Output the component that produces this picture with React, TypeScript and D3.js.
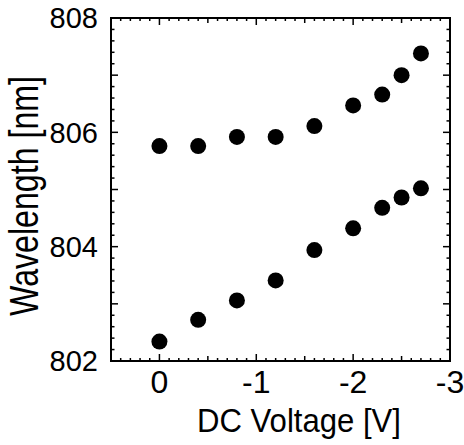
import React from "react";
import * as d3 from "d3";

const voltages = [0, -0.4, -0.8, -1.2, -1.6, -2.0, -2.3, -2.5, -2.7];
const upperWavelength = [805.76, 805.76, 805.92, 805.92, 806.11, 806.47, 806.66, 807.0, 807.38];
const lowerWavelength = [802.34, 802.72, 803.06, 803.41, 803.94, 804.32, 804.68, 804.86, 805.02];
const xTickLabels = [0, -1, -2, -3];
const yTickLabels = [802, 804, 806, 808];

const W = 464;
const H = 445;
const L = 111, R = 450, T = 18, B = 361;
const font = "'Liberation Sans', Arial, Helvetica, sans-serif";

export default function App() {
  const x = d3.scaleLinear().domain([0.5, -3]).range([L, R]);
  const y = d3.scaleLinear().domain([802, 808]).range([B, T]);

  const xMinor = d3.range(5, -31, -1).map((v) => v / 10);
  const yMinor = d3.range(8020, 8081, 2).map((v) => v / 10);

  const xLen = (v: number) => {
    const r = Math.round(v * 10);
    if (r % 10 === 0) return 7;
    if (r % 5 === 0) return 5;
    return 3;
  };
  const yLen = (v: number) => (Math.round(v * 10) % 10 === 0 ? 7 : 3.5);

  const upper = voltages.map((v, i) => ({ v, w: upperWavelength[i] }));
  const lower = voltages.map((v, i) => ({ v, w: lowerWavelength[i] }));

  return (
    <svg width={W} height={H} style={{ position: "absolute", left: 0, top: 0, background: "#fff" }}>
      <rect x={0} y={0} width={W} height={H} fill="#fff" />
      {/* ticks */}
      <g stroke="#000" strokeWidth={1.5}>
        {xMinor.map((v, i) => (
          <g key={"xt" + i}>
            <line x1={x(v)} x2={x(v)} y1={B} y2={B - xLen(v)} />
            <line x1={x(v)} x2={x(v)} y1={T} y2={T + xLen(v)} />
          </g>
        ))}
        {yMinor.map((v, i) => (
          <g key={"yt" + i}>
            <line x1={L} x2={L + yLen(v)} y1={y(v)} y2={y(v)} />
            <line x1={R} x2={R - yLen(v)} y1={y(v)} y2={y(v)} />
          </g>
        ))}
      </g>
      <rect x={L} y={T} width={R - L} height={B - T} fill="none" stroke="#000" strokeWidth={2} />
      {/* data */}
      {upper.map((d, i) => (
        <circle key={"u" + i} cx={x(d.v)} cy={y(d.w)} r={8} fill="#000" />
      ))}
      {lower.map((d, i) => (
        <circle key={"l" + i} cx={x(d.v)} cy={y(d.w)} r={8} fill="#000" />
      ))}
      {/* tick labels */}
      <g fontFamily={font} fill="#000">
        {xTickLabels.map((v) => (
          <text key={"xl" + v} x={x(v)} y={393} fontSize={32} textAnchor="middle">
            {v === 0 ? "0" : String(v)}
          </text>
        ))}
        {yTickLabels.map((v) => (
          <text key={"yl" + v} x={98} y={y(v)} dy="0.36em" fontSize={29} textAnchor="end">
            {v}
          </text>
        ))}
        <text x={299} y={432} fontSize={33} textAnchor="middle" textLength={204} lengthAdjust="spacingAndGlyphs">
          DC Voltage [V]
        </text>
        <text
          transform={`translate(38,196) rotate(-90)`}
          fontSize={40}
          textAnchor="middle"
          textLength={240}
          lengthAdjust="spacingAndGlyphs"
        >
          Wavelength [nm]
        </text>
      </g>
    </svg>
  );
}
